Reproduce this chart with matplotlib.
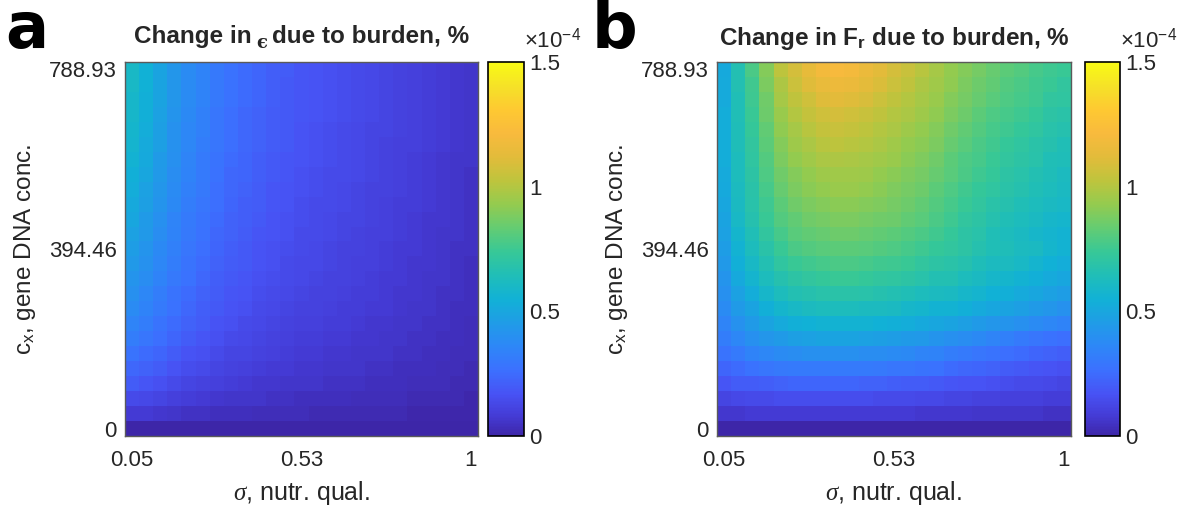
"""Burden heatmaps: change in epsilon and F_r over nutrient quality and gene DNA concentration."""

import matplotlib

matplotlib.use("Agg")
import matplotlib.pyplot as plt
import numpy as np
from matplotlib.colors import LinearSegmentedColormap

plt.rcParams["font.family"] = ["Liberation Sans", "DejaVu Sans"]
plt.rcParams["mathtext.fontset"] = "custom"
plt.rcParams["mathtext.rm"] = "Liberation Sans"
plt.rcParams["mathtext.it"] = "Liberation Serif:italic"
plt.rcParams["mathtext.bf"] = "Liberation Sans:bold"

SIGMA_RANGE = (0.05, 1.0)
CX_RANGE = (0.0, 788.93)
SIGMA_TICKS = [0.05, 0.525, 1.0]
SIGMA_TICK_LABELS = ["0.05", "0.53", "1"]
CX_TICKS = [0.0, 394.465, 788.93]
CX_TICK_LABELS = ["0", "394.46", "788.93"]
CBAR_TICKS = [0.0, 0.5, 1.0, 1.5]
CBAR_TICK_LABELS = ["0", "0.5", "1", "1.5"]
SCALE = 1e-4

# values in units of 1e-4 %; rows go from cx = 788.93 (top) down to cx = 0,
# columns from sigma = 0.05 to sigma = 1
EPS_CHANGE = [
    [0.60, 0.55, 0.49, 0.43, 0.38, 0.34, 0.30, 0.27, 0.25, 0.23, 0.21, 0.20, 0.18, 0.17, 0.16, 0.15, 0.14, 0.13, 0.12, 0.11, 0.10, 0.09, 0.08, 0.07, 0.06],
    [0.60, 0.55, 0.49, 0.43, 0.38, 0.34, 0.30, 0.27, 0.25, 0.23, 0.21, 0.19, 0.18, 0.17, 0.16, 0.15, 0.14, 0.13, 0.12, 0.11, 0.10, 0.09, 0.08, 0.07, 0.06],
    [0.59, 0.54, 0.49, 0.43, 0.38, 0.34, 0.30, 0.27, 0.25, 0.23, 0.21, 0.19, 0.18, 0.17, 0.16, 0.15, 0.14, 0.13, 0.12, 0.11, 0.10, 0.09, 0.08, 0.07, 0.06],
    [0.59, 0.54, 0.48, 0.42, 0.37, 0.33, 0.29, 0.26, 0.24, 0.22, 0.20, 0.19, 0.18, 0.17, 0.16, 0.15, 0.14, 0.13, 0.12, 0.11, 0.10, 0.09, 0.08, 0.07, 0.06],
    [0.58, 0.53, 0.47, 0.41, 0.36, 0.33, 0.29, 0.26, 0.24, 0.22, 0.20, 0.19, 0.17, 0.16, 0.15, 0.14, 0.13, 0.12, 0.12, 0.11, 0.10, 0.09, 0.08, 0.07, 0.06],
    [0.57, 0.52, 0.47, 0.41, 0.36, 0.32, 0.29, 0.26, 0.24, 0.22, 0.20, 0.19, 0.17, 0.16, 0.15, 0.14, 0.13, 0.12, 0.11, 0.10, 0.10, 0.09, 0.08, 0.07, 0.06],
    [0.56, 0.51, 0.45, 0.40, 0.35, 0.31, 0.28, 0.25, 0.23, 0.21, 0.19, 0.18, 0.17, 0.16, 0.15, 0.14, 0.13, 0.12, 0.11, 0.10, 0.09, 0.08, 0.07, 0.06, 0.06],
    [0.54, 0.50, 0.44, 0.39, 0.34, 0.31, 0.27, 0.24, 0.23, 0.21, 0.19, 0.18, 0.16, 0.15, 0.14, 0.14, 0.13, 0.12, 0.11, 0.10, 0.09, 0.08, 0.07, 0.06, 0.05],
    [0.53, 0.48, 0.43, 0.38, 0.33, 0.30, 0.26, 0.24, 0.22, 0.20, 0.18, 0.17, 0.16, 0.15, 0.14, 0.13, 0.12, 0.11, 0.11, 0.10, 0.09, 0.08, 0.07, 0.06, 0.05],
    [0.51, 0.47, 0.42, 0.37, 0.32, 0.29, 0.26, 0.23, 0.21, 0.20, 0.18, 0.17, 0.15, 0.14, 0.14, 0.13, 0.12, 0.11, 0.10, 0.09, 0.09, 0.08, 0.07, 0.06, 0.05],
    [0.50, 0.45, 0.40, 0.35, 0.31, 0.28, 0.25, 0.22, 0.21, 0.19, 0.17, 0.16, 0.15, 0.14, 0.13, 0.12, 0.12, 0.11, 0.10, 0.09, 0.08, 0.07, 0.07, 0.06, 0.05],
    [0.48, 0.44, 0.39, 0.34, 0.30, 0.27, 0.24, 0.22, 0.20, 0.18, 0.17, 0.16, 0.14, 0.14, 0.13, 0.12, 0.11, 0.10, 0.10, 0.09, 0.08, 0.07, 0.06, 0.06, 0.05],
    [0.46, 0.42, 0.37, 0.33, 0.29, 0.26, 0.23, 0.21, 0.19, 0.17, 0.16, 0.15, 0.14, 0.13, 0.12, 0.11, 0.11, 0.10, 0.09, 0.08, 0.08, 0.07, 0.06, 0.05, 0.05],
    [0.44, 0.41, 0.36, 0.32, 0.28, 0.25, 0.22, 0.20, 0.19, 0.17, 0.16, 0.14, 0.13, 0.13, 0.12, 0.11, 0.10, 0.10, 0.09, 0.08, 0.07, 0.07, 0.06, 0.05, 0.04],
    [0.42, 0.39, 0.34, 0.30, 0.27, 0.24, 0.21, 0.19, 0.18, 0.16, 0.15, 0.14, 0.13, 0.12, 0.11, 0.11, 0.10, 0.09, 0.08, 0.08, 0.07, 0.06, 0.06, 0.05, 0.04],
    [0.40, 0.36, 0.32, 0.28, 0.25, 0.22, 0.20, 0.18, 0.17, 0.15, 0.14, 0.13, 0.12, 0.11, 0.11, 0.10, 0.09, 0.09, 0.08, 0.07, 0.07, 0.06, 0.05, 0.05, 0.04],
    [0.38, 0.34, 0.31, 0.27, 0.24, 0.21, 0.19, 0.17, 0.16, 0.14, 0.13, 0.12, 0.11, 0.11, 0.10, 0.09, 0.09, 0.08, 0.08, 0.07, 0.06, 0.06, 0.05, 0.04, 0.04],
    [0.35, 0.32, 0.28, 0.25, 0.22, 0.20, 0.17, 0.16, 0.14, 0.13, 0.12, 0.11, 0.10, 0.10, 0.09, 0.09, 0.08, 0.07, 0.07, 0.06, 0.06, 0.05, 0.05, 0.04, 0.03],
    [0.32, 0.29, 0.26, 0.23, 0.20, 0.18, 0.16, 0.14, 0.13, 0.12, 0.11, 0.10, 0.09, 0.09, 0.08, 0.08, 0.07, 0.07, 0.06, 0.06, 0.05, 0.05, 0.04, 0.04, 0.03],
    [0.28, 0.25, 0.23, 0.20, 0.17, 0.16, 0.14, 0.12, 0.12, 0.11, 0.10, 0.09, 0.08, 0.08, 0.07, 0.07, 0.06, 0.06, 0.06, 0.05, 0.05, 0.04, 0.04, 0.03, 0.03],
    [0.24, 0.22, 0.20, 0.17, 0.15, 0.14, 0.12, 0.11, 0.10, 0.09, 0.08, 0.08, 0.07, 0.07, 0.06, 0.06, 0.06, 0.05, 0.05, 0.04, 0.04, 0.04, 0.03, 0.03, 0.02],
    [0.20, 0.18, 0.16, 0.14, 0.12, 0.11, 0.10, 0.09, 0.08, 0.07, 0.07, 0.06, 0.06, 0.06, 0.05, 0.05, 0.05, 0.04, 0.04, 0.04, 0.03, 0.03, 0.03, 0.02, 0.02],
    [0.14, 0.13, 0.12, 0.10, 0.09, 0.08, 0.07, 0.06, 0.06, 0.06, 0.05, 0.05, 0.04, 0.04, 0.04, 0.04, 0.03, 0.03, 0.03, 0.03, 0.02, 0.02, 0.02, 0.02, 0.01],
    [0.08, 0.08, 0.07, 0.06, 0.05, 0.05, 0.04, 0.04, 0.04, 0.03, 0.03, 0.03, 0.03, 0.02, 0.02, 0.02, 0.02, 0.02, 0.02, 0.02, 0.01, 0.01, 0.01, 0.01, 0.01],
    [0.00, 0.00, 0.00, 0.00, 0.00, 0.00, 0.00, 0.00, 0.00, 0.00, 0.00, 0.00, 0.00, 0.00, 0.00, 0.00, 0.00, 0.00, 0.00, 0.00, 0.00, 0.00, 0.00, 0.00, 0.00],
]

FR_CHANGE = [
    [0.51, 0.66, 0.78, 0.90, 1.02, 1.08, 1.14, 1.19, 1.21, 1.20, 1.16, 1.12, 1.08, 1.05, 1.01, 0.97, 0.93, 0.90, 0.87, 0.84, 0.82, 0.80, 0.77, 0.75, 0.74],
    [0.52, 0.66, 0.76, 0.88, 0.99, 1.06, 1.11, 1.15, 1.17, 1.16, 1.13, 1.10, 1.06, 1.03, 0.99, 0.96, 0.92, 0.88, 0.85, 0.83, 0.80, 0.78, 0.76, 0.74, 0.72],
    [0.52, 0.65, 0.75, 0.86, 0.97, 1.03, 1.07, 1.11, 1.12, 1.11, 1.09, 1.06, 1.03, 1.00, 0.97, 0.94, 0.90, 0.87, 0.84, 0.81, 0.79, 0.77, 0.75, 0.72, 0.71],
    [0.53, 0.65, 0.74, 0.85, 0.94, 1.00, 1.04, 1.07, 1.08, 1.07, 1.05, 1.03, 1.00, 0.98, 0.95, 0.92, 0.88, 0.85, 0.82, 0.79, 0.77, 0.75, 0.73, 0.70, 0.69],
    [0.53, 0.64, 0.73, 0.83, 0.92, 0.97, 1.01, 1.04, 1.05, 1.04, 1.02, 1.00, 0.98, 0.95, 0.93, 0.90, 0.86, 0.83, 0.80, 0.77, 0.75, 0.73, 0.71, 0.68, 0.67],
    [0.53, 0.64, 0.72, 0.82, 0.90, 0.95, 0.98, 1.01, 1.02, 1.01, 1.00, 0.98, 0.96, 0.93, 0.91, 0.88, 0.84, 0.81, 0.78, 0.76, 0.73, 0.71, 0.69, 0.67, 0.65],
    [0.53, 0.63, 0.71, 0.80, 0.88, 0.93, 0.96, 0.98, 0.99, 0.98, 0.97, 0.96, 0.94, 0.91, 0.89, 0.86, 0.82, 0.79, 0.77, 0.74, 0.72, 0.70, 0.68, 0.65, 0.64],
    [0.52, 0.63, 0.70, 0.79, 0.86, 0.90, 0.93, 0.95, 0.96, 0.96, 0.95, 0.93, 0.91, 0.89, 0.87, 0.84, 0.81, 0.78, 0.75, 0.73, 0.70, 0.68, 0.66, 0.64, 0.62],
    [0.51, 0.62, 0.69, 0.77, 0.84, 0.88, 0.91, 0.93, 0.94, 0.94, 0.93, 0.91, 0.89, 0.87, 0.85, 0.82, 0.79, 0.76, 0.73, 0.71, 0.69, 0.67, 0.65, 0.63, 0.61],
    [0.50, 0.61, 0.68, 0.75, 0.82, 0.86, 0.88, 0.90, 0.91, 0.91, 0.90, 0.89, 0.87, 0.85, 0.83, 0.80, 0.77, 0.74, 0.72, 0.69, 0.67, 0.65, 0.63, 0.61, 0.60],
    [0.49, 0.60, 0.67, 0.74, 0.80, 0.83, 0.86, 0.87, 0.88, 0.88, 0.87, 0.86, 0.85, 0.83, 0.81, 0.78, 0.75, 0.72, 0.70, 0.67, 0.65, 0.63, 0.61, 0.59, 0.58],
    [0.48, 0.58, 0.65, 0.72, 0.77, 0.81, 0.83, 0.84, 0.85, 0.85, 0.84, 0.83, 0.82, 0.80, 0.78, 0.76, 0.73, 0.70, 0.68, 0.65, 0.63, 0.61, 0.59, 0.57, 0.56],
    [0.46, 0.56, 0.63, 0.69, 0.74, 0.78, 0.80, 0.81, 0.82, 0.82, 0.81, 0.80, 0.79, 0.77, 0.75, 0.73, 0.72, 0.70, 0.67, 0.65, 0.64, 0.62, 0.61, 0.58, 0.56],
    [0.44, 0.54, 0.60, 0.66, 0.71, 0.74, 0.76, 0.77, 0.78, 0.78, 0.77, 0.76, 0.75, 0.74, 0.72, 0.70, 0.69, 0.67, 0.64, 0.62, 0.62, 0.60, 0.57, 0.55, 0.53],
    [0.42, 0.51, 0.57, 0.63, 0.67, 0.70, 0.72, 0.73, 0.74, 0.74, 0.73, 0.72, 0.71, 0.70, 0.68, 0.66, 0.66, 0.63, 0.61, 0.59, 0.58, 0.56, 0.54, 0.52, 0.50],
    [0.40, 0.48, 0.53, 0.59, 0.63, 0.66, 0.67, 0.68, 0.69, 0.69, 0.68, 0.67, 0.66, 0.65, 0.63, 0.62, 0.61, 0.59, 0.57, 0.55, 0.54, 0.52, 0.50, 0.48, 0.46],
    [0.38, 0.45, 0.49, 0.54, 0.58, 0.60, 0.62, 0.63, 0.63, 0.63, 0.62, 0.62, 0.61, 0.59, 0.58, 0.56, 0.56, 0.54, 0.52, 0.50, 0.49, 0.47, 0.45, 0.43, 0.41],
    [0.35, 0.41, 0.45, 0.49, 0.52, 0.54, 0.55, 0.56, 0.56, 0.56, 0.56, 0.55, 0.54, 0.53, 0.51, 0.50, 0.49, 0.47, 0.45, 0.43, 0.42, 0.40, 0.38, 0.36, 0.34],
    [0.32, 0.36, 0.40, 0.43, 0.45, 0.47, 0.48, 0.49, 0.49, 0.49, 0.48, 0.47, 0.46, 0.45, 0.44, 0.42, 0.40, 0.39, 0.37, 0.35, 0.33, 0.31, 0.29, 0.27, 0.26],
    [0.28, 0.31, 0.34, 0.36, 0.38, 0.39, 0.40, 0.40, 0.40, 0.40, 0.39, 0.39, 0.38, 0.37, 0.35, 0.34, 0.32, 0.31, 0.29, 0.28, 0.26, 0.25, 0.23, 0.22, 0.21],
    [0.23, 0.25, 0.27, 0.29, 0.30, 0.31, 0.31, 0.31, 0.31, 0.31, 0.31, 0.30, 0.29, 0.29, 0.28, 0.27, 0.25, 0.24, 0.23, 0.22, 0.20, 0.19, 0.18, 0.17, 0.16],
    [0.18, 0.20, 0.20, 0.21, 0.22, 0.23, 0.23, 0.23, 0.23, 0.23, 0.22, 0.22, 0.21, 0.20, 0.20, 0.19, 0.18, 0.17, 0.17, 0.16, 0.15, 0.14, 0.14, 0.13, 0.12],
    [0.12, 0.13, 0.14, 0.14, 0.15, 0.15, 0.15, 0.15, 0.15, 0.15, 0.15, 0.14, 0.14, 0.14, 0.13, 0.13, 0.12, 0.12, 0.11, 0.11, 0.10, 0.10, 0.10, 0.09, 0.09],
    [0.07, 0.07, 0.08, 0.08, 0.08, 0.08, 0.08, 0.08, 0.08, 0.08, 0.08, 0.08, 0.08, 0.08, 0.07, 0.07, 0.07, 0.07, 0.06, 0.06, 0.06, 0.06, 0.06, 0.05, 0.05],
    [0.00, 0.00, 0.00, 0.00, 0.00, 0.00, 0.00, 0.00, 0.00, 0.00, 0.00, 0.00, 0.00, 0.00, 0.00, 0.00, 0.00, 0.00, 0.00, 0.00, 0.00, 0.00, 0.00, 0.00, 0.00],
]

# parula-like colour ramp
PARULA_STOPS = [
    (0.000, (0.2422, 0.1504, 0.6603)),
    (0.048, (0.2670, 0.2260, 0.8260)),
    (0.111, (0.2810, 0.3228, 0.9579)),
    (0.175, (0.2350, 0.4400, 0.9990)),
    (0.238, (0.1786, 0.5289, 0.9682)),
    (0.302, (0.1250, 0.6120, 0.9040)),
    (0.365, (0.0689, 0.6948, 0.8394)),
    (0.429, (0.1250, 0.7450, 0.7200)),
    (0.492, (0.2161, 0.7843, 0.5923)),
    (0.556, (0.3900, 0.8000, 0.4500)),
    (0.619, (0.5783, 0.7969, 0.3111)),
    (0.683, (0.7450, 0.7700, 0.2400)),
    (0.746, (0.8865, 0.7356, 0.2285)),
    (0.810, (0.9730, 0.7300, 0.2400)),
    (0.873, (0.9956, 0.7862, 0.1963)),
    (0.937, (0.9620, 0.8850, 0.1550)),
    (1.000, (0.9769, 0.9839, 0.0805)),
]
PARULA = LinearSegmentedColormap.from_list("parula", PARULA_STOPS, N=256)

FIG_W, FIG_H = 1179, 508
TEXT_COLOR = "#262626"
TITLE_SIZE = 17.5
TITLE_BASELINE = 43  # px from the top of the figure


def px_rect(left, top, right, bottom):
    return [left / FIG_W, 1 - bottom / FIG_H, (right - left) / FIG_W, (bottom - top) / FIG_H]


def split_title(fig, center_px, head, symbol, tail):
    """Bold title with a smaller, lowered symbol between two words."""
    renderer = fig.canvas.get_renderer()
    y = 1 - TITLE_BASELINE / FIG_H
    t_head = fig.text(0, y, head, fontsize=TITLE_SIZE, fontweight="bold",
                      color=TEXT_COLOR, va="baseline")
    t_sym = fig.text(0, y - 5 / FIG_H, symbol, fontsize=13, fontweight="bold",
                     family="DejaVu Serif", color=TEXT_COLOR, va="baseline")
    t_tail = fig.text(0, y, tail, fontsize=TITLE_SIZE, fontweight="bold",
                      color=TEXT_COLOR, va="baseline")
    gap = 5.0
    widths = [t.get_window_extent(renderer).width for t in (t_head, t_sym, t_tail)]
    x = center_px - (sum(widths) + 2 * gap) / 2
    for t, w in zip((t_head, t_sym, t_tail), widths):
        t.set_x(x / FIG_W)
        x += w + gap


def draw_panel(fig, values, ax_rect, cax_rect, letter, letter_x):
    ax = fig.add_axes(px_rect(*ax_rect))
    n_rows, n_cols = np.shape(values)
    half_x = (SIGMA_RANGE[1] - SIGMA_RANGE[0]) / (n_cols - 1) / 2
    half_y = (CX_RANGE[1] - CX_RANGE[0]) / (n_rows - 1) / 2
    im = ax.imshow(
        np.array(values) * SCALE,
        cmap=PARULA,
        vmin=0.0,
        vmax=1.5 * SCALE,
        origin="upper",
        aspect="auto",
        interpolation="nearest",
        extent=[SIGMA_RANGE[0] - half_x, SIGMA_RANGE[1] + half_x,
                CX_RANGE[0] - half_y, CX_RANGE[1] + half_y],
    )
    ax.set_xticks(SIGMA_TICKS, SIGMA_TICK_LABELS)
    ax.set_yticks(CX_TICKS, CX_TICK_LABELS)
    ax.tick_params(axis="both", length=0, labelsize=16, colors=TEXT_COLOR)
    ax.tick_params(axis="x", pad=10)
    ax.tick_params(axis="y", pad=6)
    for spine in ax.spines.values():
        spine.set_color("#5a5a5a")
        spine.set_linewidth(1.0)
    ax.set_xlabel(r"$\sigma$, nutr. qual.", fontsize=18, color=TEXT_COLOR, labelpad=6)
    ax.set_ylabel(r"c$_{\mathrm{x}}$, gene DNA conc.", fontsize=17.5, color=TEXT_COLOR, labelpad=8)

    cax = fig.add_axes(px_rect(*cax_rect))
    cbar = fig.colorbar(im, cax=cax)
    cbar.set_ticks([t * SCALE for t in CBAR_TICKS], labels=CBAR_TICK_LABELS)
    cbar.ax.tick_params(length=0, labelsize=16, colors=TEXT_COLOR, pad=4)
    cbar.outline.set_edgecolor("black")
    cbar.outline.set_linewidth(1.2)
    cax.text(1.0, 1.025, r"$\times$10$^{-4}$", transform=cax.transAxes,
             fontsize=16, color=TEXT_COLOR, ha="left", va="bottom")

    fig.text(letter_x / FIG_W, 1 - 48 / FIG_H, letter, fontsize=46,
             fontweight="bold", family="DejaVu Sans", color="black",
             ha="left", va="baseline")
    return ax


def main():
    fig = plt.figure(figsize=(FIG_W / 100, FIG_H / 100), dpi=100)
    draw_panel(fig, EPS_CHANGE, (125, 62, 478, 436), (488, 62, 524, 436), "a", 5)
    split_title(fig, (125 + 478) / 2, "Change in", "\u03f5", "due to burden, %")

    ax_b = draw_panel(fig, FR_CHANGE, (717, 62, 1071, 436), (1085, 62, 1120, 436), "b", 592)
    ax_b.set_title(r"Change in F$_{\mathbf{r}}$ due to burden, %", fontsize=TITLE_SIZE,
                   fontweight="bold", color=TEXT_COLOR, pad=12)

    fig.savefig("out.png", dpi=100, facecolor="white")
    plt.close(fig)


if __name__ == "__main__":
    main()
